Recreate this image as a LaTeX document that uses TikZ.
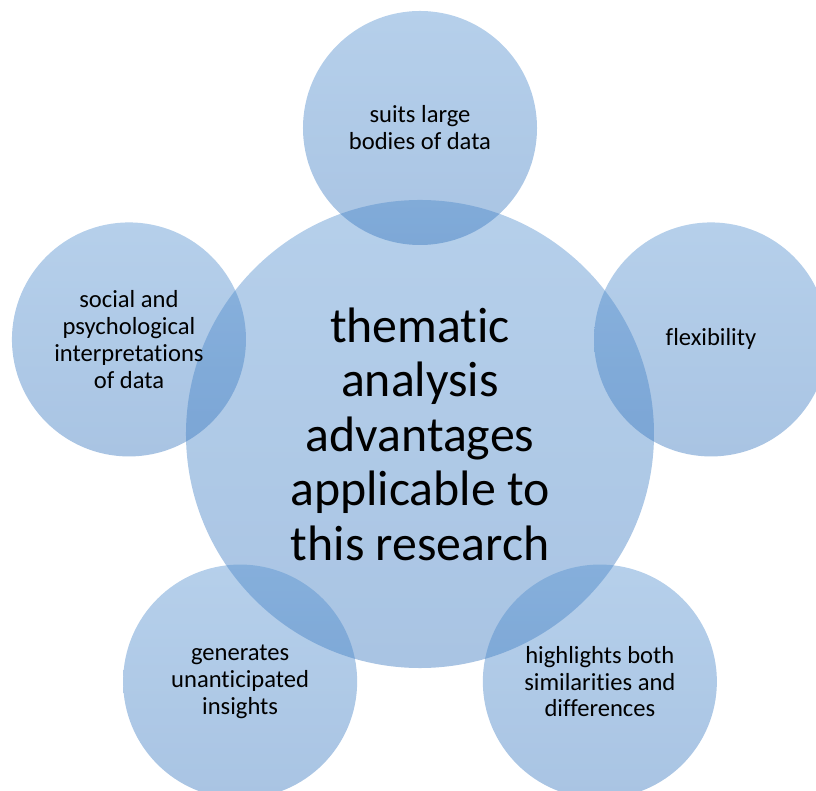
\documentclass[tikz,border=0pt]{standalone}
\usepackage{fontspec}
\setmainfont{Carlito}[Ligatures=NoCommon]
\usetikzlibrary{positioning,calc}
\definecolor{bubbletop}{RGB}{85,145,208}
\definecolor{bubblebot}{RGB}{55,118,190}
\tikzset{
  bubble/.style={circle, inner sep=0pt, top color=bubbletop, bottom color=bubblebot,
    fill opacity=0.43, text opacity=1, text=black, align=center},
  outertext/.style={font=\fontsize{21}{23}\selectfont},
}

\begin{document}
\begin{tikzpicture}[x=0.03cm, y=0.03cm,
  hub/.style={bubble, minimum size=14.04cm, font=\fontsize{42.5}{46.5}\selectfont},
  petal/.style={bubble, outertext, minimum size=7.02cm},
]
  \useasboundingbox (-420,-357) rectangle (396,434);
  \clip (-420,-357) rectangle (396,434);
  \node[hub] (core) at (0,0) {thematic\\analysis\\advantages\\applicable to\\this research};
  % five advantages round the hub
  \foreach \ang/\nm/\txt in {90/data/{suits large\\bodies of data},
      18/flex/{flexibility},
      -54/simil/{highlights both\\similarities and\\differences},
      -126/insight/{generates\\unanticipated\\insights},
      162/social/{social and\\psychological\\interpretations\\of data}}
    \node[petal] (\nm) at ($(core)+(\ang:306)$) {\txt};
\end{tikzpicture}
\end{document}
